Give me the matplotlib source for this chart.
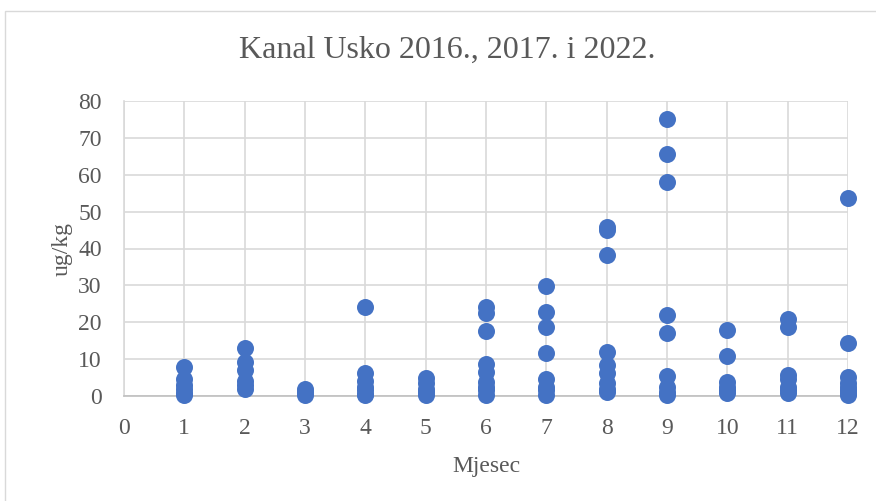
import numpy as np
from matplotlib import pyplot as plt
from matplotlib.patches import Rectangle

# values, one list per month
m1 = [8, 4.5, 3, 2, 0.8, 0.3]
m2 = [13.1, 9.3, 7, 4, 3, 1.8]
m3 = [2, 1, 0.3]
m4 = [24.1, 6.3, 4, 2.5, 1.5, 0.5, 0.2]
m5 = [5, 3.5, 2, 1, 0.3]
m6 = [24.2, 22.6, 17.6, 8.8, 6.6, 3.9, 2.5, 1.6, 0.3]
m7 = [29.8, 22.7, 18.8, 11.7, 4.5, 2.5, 1.5, 0.3]
m8 = [45.9, 45, 38.2, 11.8, 8.4, 6.2, 3.4, 2, 1.2]
m9 = [75.1, 65.5, 58.1, 22.1, 17.2, 5.4, 2.4, 1, 0.3]
m10 = [17.9, 10.8, 3.9, 2.5, 1.6, 0.7]
m11 = [21, 18.8, 5.7, 4.5, 2.5, 1.5, 0.7]
m12 = [53.6, 14.3, 5.2, 3.4, 2.5, 1.6, 0.8, 0.3]

months = [m1, m2, m3, m4, m5, m6, m7, m8, m9, m10, m11, m12]

x = np.concatenate([[i + 1] * len(v) for i, v in enumerate(months)])
y = np.concatenate(months)

plt.rcParams['font.family'] = ['Liberation Serif', 'DejaVu Serif']
TXT = '#595959'
GRID = '#d9d9d9'

fig = plt.figure(figsize=(8.76, 5.01), dpi=100)
# chart border
fig.patches.append(Rectangle((5 / 876, -0.05), 1.0, 1 - 11 / 501 + 0.05,
                             transform=fig.transFigure, fill=False,
                             edgecolor=GRID, linewidth=1))

ax = fig.add_axes([124 / 876, 1 - 396 / 501, 724 / 876, 295 / 501])
ax.scatter(x, y, s=150, color='#4472C4', zorder=3, linewidths=0, clip_on=False)

ax.set_xlim(0, 12)
ax.set_ylim(0, 80)
ax.set_xticks(range(0, 13))
ax.set_yticks(range(0, 81, 10))
ax.grid(True, color=GRID, linewidth=1.2, zorder=0)
for s in ['top', 'right']:
    ax.spines[s].set_visible(False)
ax.spines['left'].set_color(GRID)
ax.spines['bottom'].set_color('#bfbfbf')
ax.spines['left'].set_linewidth(1.2)
ax.spines['bottom'].set_linewidth(1.2)
ax.tick_params(axis='both', length=0, labelsize=17, colors=TXT)
ax.tick_params(axis='y', pad=16)
ax.tick_params(axis='x', pad=16)

ax.set_xlabel('Mjesec', fontsize=17, color=TXT, labelpad=12)
ax.set_ylabel('ug/kg', fontsize=17, color=TXT, labelpad=4)

fig.text(447 / 876, 1 - 50 / 501, 'Kanal Usko 2016., 2017. i 2022.',
         fontsize=23, color=TXT, ha='center', va='center')

fig.savefig('out.png', dpi=100)
